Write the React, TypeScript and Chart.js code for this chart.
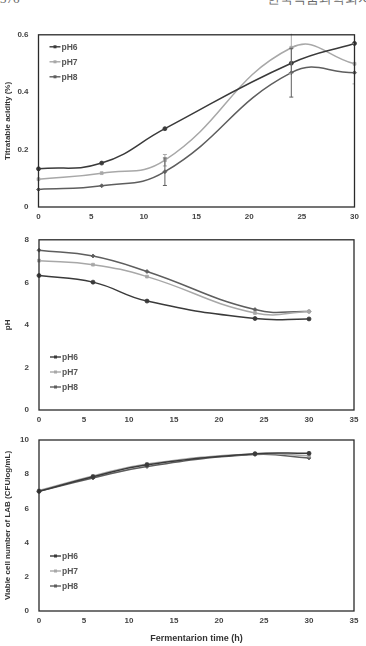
import { useEffect, useRef } from "react";
import { Chart, registerables } from "chart.js";

Chart.register(...registerables);

// Sampling times (h)
const hours = [0, 6, 12, 24, 30];
const seriesNames = ["pH6", "pH7", "pH8"];

// Titratable acidity (%)
const acidityPH6 = [0.133, 0.153, 0.273, 0.501, 0.57];
const acidityPH7 = [0.097, 0.118, 0.163, 0.555, 0.499];
const acidityPH8 = [0.061, 0.074, 0.123, 0.468, 0.468];
// Standard deviations of titratable acidity
const acidityErrPH6 = [0, 0, 0, 0, 0];
const acidityErrPH7 = [0, 0, 0.02, 0.09, 0.07];
const acidityErrPH8 = [0, 0, 0.048, 0.085, 0];

// pH during fermentation
const phPH6 = [6.32, 6.01, 5.12, 4.3, 4.28];
const phPH7 = [7.02, 6.83, 6.27, 4.56, 4.63];
const phPH8 = [7.51, 7.24, 6.51, 4.72, 4.63];

// Viable cell number of LAB (log CFU/mL)
const labPH6 = [7.0, 7.85, 8.55, 9.2, 9.22];
const labPH7 = [7.05, 7.9, 8.6, 9.2, 9.08];
const labPH8 = [7.0, 7.78, 8.45, 9.15, 8.95];

const lineColors = ["#3a3a3a", "#a8a8a8", "#5e5e5e"];
const pointStyles = ["circle", "rect", "rectRot"] as const;
const FONT = "'Liberation Sans', Arial, sans-serif";

// Draws the plot frame, error bars and the in-plot legend
const framePlugin = {
  id: "frameLegend",
  afterDatasetsDraw(chart: any, _args: any, opts: any) {
    const { ctx, chartArea: a } = chart;
    const xs = chart.scales.x;
    const ys = chart.scales.y;

    if (opts.errors) {
      ctx.save();
      ctx.beginPath();
      ctx.rect(a.left, a.top - 1, a.right - a.left, a.bottom - a.top + 1);
      ctx.clip();
      chart.data.datasets.forEach((ds: any, i: number) => {
        const errs = opts.errors[i];
        if (!errs) return;
        ctx.strokeStyle = ds.borderColor;
        ctx.lineWidth = 1;
        ds.data.forEach((p: any, j: number) => {
          const e = errs[j];
          if (!e) return;
          const x = xs.getPixelForValue(p.x);
          const y1 = ys.getPixelForValue(p.y - e);
          const y2 = ys.getPixelForValue(p.y + e);
          ctx.beginPath();
          ctx.moveTo(x, y1);
          ctx.lineTo(x, y2);
          ctx.moveTo(x - 2, y1);
          ctx.lineTo(x + 2, y1);
          ctx.moveTo(x - 2, y2);
          ctx.lineTo(x + 2, y2);
          ctx.stroke();
        });
      });
      ctx.restore();
    }

    ctx.save();
    ctx.strokeStyle = "#2a2a2a";
    ctx.lineWidth = 1.3;
    ctx.strokeRect(a.left, a.top, a.right - a.left, a.bottom - a.top);

    // legend
    const baseY = opts.legendAnchor === "top" ? a.top + opts.legendOffset : a.bottom - opts.legendOffset;
    ctx.font = `bold 8.5px ${FONT}`;
    ctx.textBaseline = "middle";
    ctx.textAlign = "left";
    chart.data.datasets.forEach((ds: any, i: number) => {
      const y = baseY + i * 15;
      const x0 = a.left + 11;
      ctx.strokeStyle = ds.borderColor;
      ctx.fillStyle = ds.borderColor;
      ctx.lineWidth = 1.4;
      ctx.beginPath();
      ctx.moveTo(x0, y);
      ctx.lineTo(x0 + 11, y);
      ctx.stroke();
      ctx.fillRect(x0 + 4, y - 1.5, 3, 3);
      ctx.fillStyle = "#555";
      ctx.fillText(ds.label, x0 + 12, y + 0.5);
    });
    ctx.restore();
  },
};

type Spec = {
  top: number;
  height: number;
  series: number[][];
  errors?: number[][];
  xMax: number;
  yMax: number;
  yStep: number;
  yTitle: string;
  xTitle?: string;
  padTop: number;
  xHeight: number;
  yWidth: number;
  padRight: number;
  legendAnchor: "top" | "bottom";
  legendOffset: number;
};

function Panel({ spec }: { spec: Spec }) {
  const ref = useRef<HTMLCanvasElement | null>(null);

  useEffect(() => {
    if (!ref.current) return;
    const datasets = spec.series.map((vals, i) => ({
      label: seriesNames[i],
      data: hours.map((h, j) => ({ x: h, y: vals[j] })),
      borderColor: lineColors[i],
      backgroundColor: lineColors[i],
      borderWidth: 1.5,
      pointStyle: pointStyles[i],
      pointRadius: 2,
      pointBorderWidth: 0.8,
      tension: 0.45,
      clip: 6,
    }));

    const tickFont = { family: FONT, size: 8, weight: "bold" as const };
    const chart = new Chart(ref.current, {
      type: "line",
      data: { datasets },
      plugins: [framePlugin],
      options: {
        animation: false,
        responsive: false,
        layout: {
          autoPadding: false,
          padding: { top: spec.padTop, right: spec.padRight, left: 0, bottom: 0 },
        },
        plugins: {
          legend: { display: false },
          tooltip: { enabled: false },
          frameLegend: {
            errors: spec.errors,
            legendAnchor: spec.legendAnchor,
            legendOffset: spec.legendOffset,
          },
        } as any,
        scales: {
          x: {
            type: "linear",
            min: 0,
            max: spec.xMax,
            border: { display: false },
            grid: { display: false, drawTicks: false },
            ticks: { stepSize: 5, padding: 5, color: "#444", font: tickFont, maxRotation: 0 },
            title: spec.xTitle
              ? {
                  display: true,
                  text: spec.xTitle,
                  color: "#333",
                  font: { family: FONT, size: 9, weight: "bold" },
                  padding: { top: 0, bottom: 2 },
                }
              : { display: false },
            afterFit: (s: any) => {
              s.height = spec.xHeight;
            },
          },
          y: {
            type: "linear",
            min: 0,
            max: spec.yMax,
            border: { display: false },
            grid: { display: false, drawTicks: false },
            ticks: { stepSize: spec.yStep, padding: 10, color: "#444", font: tickFont },
            title: {
              display: true,
              text: spec.yTitle,
              color: "#333",
              font: { family: FONT, size: 8, weight: "bold" },
              padding: { top: 3, bottom: 0 },
            },
            afterFit: (s: any) => {
              s.width = spec.yWidth;
            },
          },
        },
      },
    });
    return () => chart.destroy();
  }, [spec]);

  return (
    <canvas
      ref={ref}
      width={366}
      height={spec.height}
      style={{ position: "absolute", left: 0, top: spec.top, display: "block" }}
    />
  );
}

const acidityPanel: Spec = {
  top: 20,
  height: 205,
  series: [acidityPH6, acidityPH7, acidityPH8],
  errors: [acidityErrPH6, acidityErrPH7, acidityErrPH8],
  xMax: 30,
  yMax: 0.6,
  yStep: 0.2,
  yTitle: "Titratable acidity (%)",
  padTop: 14,
  xHeight: 18,
  yWidth: 38.5,
  padRight: 11.5,
  legendAnchor: "top",
  legendOffset: 12,
};

const phPanel: Spec = {
  top: 225,
  height: 200,
  series: [phPH6, phPH7, phPH8],
  xMax: 35,
  yMax: 8,
  yStep: 2,
  yTitle: "pH",
  padTop: 13,
  xHeight: 15,
  yWidth: 39,
  padRight: 12,
  legendAnchor: "bottom",
  legendOffset: 53,
};

const labPanel: Spec = {
  top: 425,
  height: 221,
  series: [labPH6, labPH7, labPH8],
  xMax: 35,
  yMax: 10,
  yStep: 2,
  yTitle: "Viable cell number of LAB (CFUlog/mL)",
  xTitle: "Fermentarion time (h)",
  padTop: 15,
  xHeight: 35,
  yWidth: 39,
  padRight: 12,
  legendAnchor: "bottom",
  legendOffset: 55,
};

export default function App() {
  return (
    <div
      style={{
        position: "absolute",
        left: 0,
        top: 0,
        width: 366,
        height: 646,
        background: "#fff",
        overflow: "hidden",
      }}
    >
      <div
        style={{
          position: "absolute",
          left: 0,
          top: -8,
          width: 366,
          fontFamily: "serif",
          fontSize: 13,
          lineHeight: "14px",
          color: "#666",
          whiteSpace: "nowrap",
        }}
      >
        <span style={{ position: "absolute", left: 0 }}>376</span>
        <span style={{ position: "absolute", left: 267 }}>한국식품과학회지 제</span>
      </div>
      <Panel spec={acidityPanel} />
      <Panel spec={phPanel} />
      <Panel spec={labPanel} />
    </div>
  );
}
